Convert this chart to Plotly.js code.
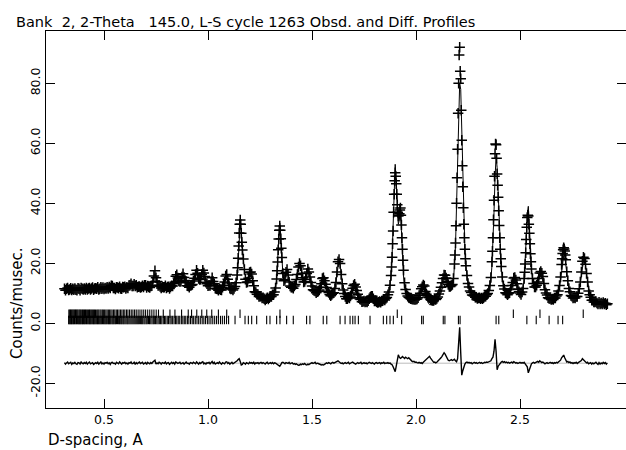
<!DOCTYPE html>
<html>
<head>
<meta charset="utf-8">
<script src="https://cdn.plot.ly/plotly-3.0.1.min.js"></script>
<style>html,body{margin:0;padding:0;background:#fff;}#chart{width:626px;height:450px;}</style>
</head>
<body>
<div id="chart"></div>
<script>
// ---- data ----
// calculated profile, one value per 0.005 A step starting at d = 0.310 A
const calcProfile = [
11.3,11.3,11.4,11.4,11.3,11.3,11.4,11.5,11.4,11.3,
11.3,11.4,11.4,11.5,11.4,11.3,11.4,11.5,11.5,11.4,
11.4,11.5,11.6,11.5,11.4,11.5,11.6,11.7,11.6,11.5,
11.5,11.6,11.7,11.6,11.5,11.6,11.7,11.8,11.7,11.6,
11.6,11.7,11.8,12.0,12.2,12.3,12.1,11.9,11.8,11.7,
11.7,11.8,11.9,11.8,11.7,11.8,11.9,12.0,11.9,11.8,
11.9,12.1,12.4,12.7,12.8,12.6,12.5,12.7,12.8,12.5,
12.2,12.0,11.9,12.0,12.1,12.2,12.4,12.6,12.5,12.3,
12.1,12.1,12.1,12.2,12.6,13.4,15.2,16.5,15.5,13.8,
12.8,12.4,12.2,12.1,12.0,12.0,12.1,12.1,12.0,12.0,
12.0,12.0,12.1,12.2,12.5,13.0,14.0,15.3,16.0,15.2,
14.0,13.6,14.2,15.4,16.3,15.6,14.2,13.1,12.6,12.4,
12.3,12.4,12.6,13.0,13.8,15.0,16.5,17.3,16.6,15.2,
14.4,14.8,16.0,17.2,17.0,15.5,14.0,13.0,12.5,12.4,
12.8,13.8,14.6,14.0,12.9,12.0,11.5,11.2,11.1,11.1,
11.2,11.4,11.8,12.6,14.0,15.4,15.8,14.8,13.2,12.0,
11.3,11.2,11.3,11.6,12.1,13.1,15.3,20.5,28.6,33.8,
30.6,24.8,21.2,17.9,15.0,13.4,13.7,15.2,16.6,17.1,
16.2,14.3,12.2,10.8,10.2,9.7,9.4,9.1,8.9,8.7,
8.5,8.3,8.2,8.1,8.1,8.2,8.3,8.5,8.7,9.0,
9.3,9.7,10.3,11.8,15.1,21.0,29.0,33.4,28.7,21.7,
16.3,14.2,14.8,16.8,17.8,16.2,13.5,12.6,12.0,11.9,
12.0,12.5,13.3,14.8,16.8,19.5,20.5,19.5,17.2,15.4,
14.2,14.0,15.2,17.2,18.4,17.6,15.6,13.6,12.2,11.3,
10.8,10.5,10.4,10.5,10.8,11.4,12.4,13.8,15.4,15.8,
14.6,13.2,11.8,10.8,10.1,9.6,9.4,9.5,9.7,10.2,
11.4,13.2,16.5,19.7,20.8,19.7,16.4,13.1,11.3,9.9,
8.7,8.3,8.1,8.4,8.6,9.1,9.9,11.3,12.5,13.2,
12.4,10.9,9.5,8.6,8.0,7.6,7.4,7.3,7.2,7.2,
7.2,7.3,7.5,7.9,8.6,9.1,8.8,8.2,7.7,7.4,
7.0,7.0,7.0,7.1,7.2,7.3,7.5,7.7,7.9,8.2,
8.6,9.3,10.5,12.6,16.2,22.5,32.0,45.0,53.0,47.5,
38.0,33.0,34.5,36.8,31.0,22.5,15.8,11.9,9.3,8.2,
7.6,6.9,7.1,7.2,7.4,7.5,7.4,7.6,7.6,7.9,
8.4,9.0,10.0,11.3,12.3,12.5,11.8,9.6,8.3,7.4,
6.7,6.2,6.2,6.5,7.0,7.3,7.6,7.8,8.0,8.2,
8.9,9.4,10.2,11.2,12.0,12.6,13.0,12.9,12.4,11.9,
11.5,11.3,11.4,12.0,13.8,18.5,26.0,39.5,56.5,73.0,
80.0,78.0,65.0,48.0,34.0,25.0,19.0,15.5,13.2,11.8,
10.8,10.1,9.6,9.2,8.9,8.7,8.5,8.4,8.3,8.2,
8.2,8.2,8.3,8.4,8.6,8.8,9.1,9.6,10.4,12.0,
14.5,19.0,26.5,37.0,48.5,55.5,52.0,43.0,33.0,24.5,
18.5,14.8,12.2,10.9,10.0,9.5,9.4,9.6,10.2,11.2,
12.2,13.5,14.6,15.0,14.4,13.0,11.4,10.4,9.8,9.6,
10.2,11.6,14.6,20.0,28.5,36.5,39.0,32.0,24.0,18.3,
14.8,13.0,12.1,11.9,12.3,13.2,14.6,16.0,16.8,16.5,
15.2,13.2,11.4,10.1,9.2,8.6,8.2,8.0,7.9,7.9,
8.0,8.2,8.4,8.8,9.4,10.4,12.0,14.4,17.8,20.8,
22.5,22.3,20.2,16.8,13.6,11.4,10.1,9.3,8.8,8.5,
8.4,8.4,8.6,9.0,9.8,11.1,13.2,16.2,19.2,20.8,
20.8,19.3,16.5,13.5,11.0,9.5,8.5,8.0,7.6,7.3,
7.1,7.0,6.9,6.8,6.8,6.7,6.7,6.6,6.6,6.5,
6.5,6.5,6.4
];
// difference curve (Obs - Calc), same d steps
const diffProfile = [
0.2,-0.3,0.1,0.4,-0.2,0.0,0.3,-0.4,0.1,-0.1,
0.3,-0.2,-0.4,0.2,0.1,-0.3,0.4,0.0,-0.2,0.2,
-0.1,0.3,-0.3,0.1,0.4,-0.2,0.0,0.2,-0.4,0.1,
0.2,-0.1,0.3,-0.3,0.0,0.4,-0.2,0.1,-0.3,0.2,
0.0,0.3,-0.2,0.1,-0.4,0.2,0.3,-0.1,0.0,-0.3,
0.3,0.1,-0.2,0.4,-0.1,-0.3,0.2,0.0,0.3,-0.2,
0.1,-0.3,0.2,0.0,0.4,-0.2,-0.1,0.3,-0.4,0.2,
-0.2,0.2,0.4,-0.1,0.0,0.3,-0.3,0.1,0.2,-0.4,
0.3,0.0,-0.2,0.2,-0.1,0.4,0.6,1.0,-0.3,0.1,
-0.2,0.3,0.1,-0.3,0.2,0.0,-0.1,0.4,-0.2,0.1,
0.2,-0.4,0.0,0.3,-0.1,0.2,-0.3,0.4,0.2,-0.1,
0.1,0.3,-0.2,0.0,0.2,-0.3,0.1,0.4,-0.1,0.0,
-0.3,0.2,0.1,-0.1,0.3,0.0,-0.2,0.4,0.1,-0.3,
0.2,-0.1,0.3,0.5,-0.2,0.1,-0.3,0.2,0.0,0.3,
-0.2,0.1,0.6,-0.1,0.3,-0.3,0.0,0.2,-0.1,0.4,
0.0,-0.3,0.2,0.1,-0.2,0.4,0.5,-0.1,0.2,-0.3,
0.1,0.3,-0.2,0.0,0.2,0.4,0.8,1.2,1.5,0.6,
-0.6,-0.4,0.2,0.0,-0.3,0.2,0.1,-0.2,0.3,0.0,
0.2,-0.1,0.3,-0.3,0.1,0.0,0.2,-0.2,0.1,0.3,
-0.1,0.2,0.0,-0.3,0.1,0.3,-0.2,0.0,0.2,-0.1,
0.2,-0.2,0.1,0.0,-0.3,-0.6,-0.9,-1.0,-0.5,0.2,
0.3,0.0,-0.2,0.2,0.1,-0.1,0.3,-0.2,0.0,0.1,
-0.3,-0.1,-0.4,-0.2,-0.5,-0.7,-0.6,-0.3,-0.5,-0.2,
-0.4,-0.1,-0.5,-0.6,-0.3,-0.5,-0.2,0.0,0.2,-0.1,
0.1,0.3,-0.2,0.0,-0.1,-0.3,-0.4,-0.6,-0.5,-0.6,
-0.4,-0.2,0.1,-0.1,0.2,0.0,-0.2,0.1,0.3,0.0,
0.2,0.4,0.6,0.8,0.5,0.2,-0.1,0.1,-0.2,0.0,
0.2,-0.1,0.1,0.3,-0.2,0.0,0.2,0.4,0.1,-0.2,
-0.3,0.0,0.2,-0.1,0.1,0.3,-0.2,0.0,0.2,-0.1,
0.1,-0.2,0.0,0.3,0.1,-0.1,0.2,0.0,-0.3,0.1,
0.2,-0.1,0.0,0.2,-0.2,0.1,0.0,0.3,-0.1,0.1,
0.0,0.2,-0.1,0.1,-0.3,-0.5,-1.2,-2.0,-2.8,-1.0,
1.5,2.8,2.0,1.6,1.8,2.2,1.9,1.6,2.0,1.7,
1.5,1.8,1.3,1.0,0.7,0.5,0.6,0.3,0.4,0.2,
0.1,0.3,0.0,0.2,-0.1,0.3,0.6,1.0,1.4,1.8,
2.0,2.3,1.7,1.2,0.6,0.3,0.4,0.1,0.3,0.6,
0.9,1.4,1.8,2.3,2.9,3.5,3.0,2.2,1.5,1.0,
0.8,1.0,1.2,0.9,1.1,1.3,0.8,0.5,1.5,7.0,
12.0,3.5,-4.0,-2.5,-1.0,-0.3,0.2,0.4,0.1,0.3,
0.0,0.2,-0.2,0.1,0.3,0.0,0.2,-0.1,0.1,0.3,
0.0,0.2,-0.1,0.1,0.3,0.2,0.4,0.3,0.5,0.6,
0.8,1.5,2.0,4.0,8.0,4.0,-2.2,-1.0,-0.4,0.2,
0.4,0.6,0.3,0.5,0.2,0.4,0.1,0.3,0.0,0.2,
0.4,0.1,0.5,0.3,0.0,0.2,-0.1,0.1,0.3,0.0,
0.2,0.0,0.3,-0.2,-0.6,-1.2,-3.2,-2.0,-0.8,-0.2,
0.1,0.3,0.0,0.2,0.4,0.6,0.3,0.8,0.5,0.2,
0.4,0.1,-0.2,0.0,0.2,-0.1,0.1,0.3,0.0,0.2,
-0.1,0.2,0.0,0.3,0.1,0.4,0.6,1.0,1.8,2.5,
2.7,1.8,1.0,0.4,0.6,0.2,0.4,0.0,0.2,-0.1,
0.2,0.0,0.3,-0.1,0.2,0.4,0.6,0.9,1.5,1.2,
0.8,0.4,0.1,0.3,-0.2,0.0,0.2,-0.3,0.1,-0.2,
0.0,0.3,-0.1,-0.4,0.2,-0.3,0.1,-0.2,0.3,-0.1,
0.2,-0.3,0.1
];
// additional observed points read on the steep peak flanks (d, counts)
const obsExtraD = [
1.1425,1.1475,1.1525,1.1575,1.1625,
1.3325,1.3375,1.3425,1.3475,1.3525,
1.8825,1.8875,1.8925,1.8975,1.9025,1.9075,1.9125,1.9175,1.9225,1.9275,1.9325,1.9375,
2.1875,2.1925,2.1975,2.2025,2.2075,2.2125,2.2175,2.2225,2.2275,2.2325,2.2375,
2.3675,2.3725,2.3775,2.3825,2.3875,2.3925,2.3975,2.4025,2.4075,
2.5225,2.5275,2.5325,2.5375,2.5425,2.5475,2.5525,
2.7025,2.7075,2.7125,2.7175
];
const obsExtraY = [
18.5,25.8,33.0,33.0,27.0,
17.5,24.5,31.0,31.0,25.0,
18.8,26.5,37.0,47.5,49.0,43.0,37.0,36.0,37.8,36.0,28.5,21.0,
22.8,32.5,48.5,70.0,89.4,84.0,71.0,52.5,38.5,28.5,21.5,
24.0,34.5,49.0,59.8,55.0,46.0,37.5,28.5,21.5,
17.0,23.5,32.0,36.0,33.0,26.5,20.5,
21.5,24.5,24.8,22.8
];
// reflection positions (d, A), lower row of tick marks
const phase1Refl = [
0.330,0.333,0.337,0.340,0.344,0.347,0.351,0.354,0.358,0.361,0.365,0.368,0.372,0.376,0.379,0.383,
0.386,0.390,0.394,0.397,0.401,0.405,0.408,0.412,0.416,0.419,0.423,0.427,0.431,0.434,0.438,0.442,
0.446,0.450,0.453,0.457,0.461,0.465,0.469,0.473,0.477,0.481,0.485,0.489,0.493,0.497,0.501,0.505,
0.509,0.513,0.518,0.522,0.526,0.530,0.534,0.539,0.543,0.547,0.552,0.556,0.560,0.565,0.569,0.574,
0.578,0.583,0.587,0.592,0.596,0.601,0.606,0.611,0.615,0.620,0.625,0.630,0.635,0.640,0.645,0.650,
0.655,0.660,0.665,0.670,0.676,0.681,0.686,0.692,0.697,0.703,0.708,0.714,0.719,0.725,0.731,0.737,
0.742,0.748,0.754,0.760,0.766,0.772,0.778,0.785,0.791,0.797,0.804,0.810,0.817,0.823,0.830,0.837,
0.844,0.850,0.857,0.864,0.872,0.879,0.886,0.893,0.901,0.908,0.916,0.924,0.931,0.939,0.947,0.955,
0.963,0.972,0.980,0.988,0.997,1.005,1.014,1.023,1.032,1.041,1.050,1.060,1.069,1.079,1.089,1.099,
1.130,1.178,1.194,1.210,1.234,1.282,1.298,1.330,1.346,1.378,1.410,1.474,1.490,1.554,1.571,1.635,
1.659,1.683,1.696,1.707,1.723,1.779,1.843,1.859,1.875,1.891,1.931,2.027,2.035,2.131,2.139,2.204,
2.212,2.385,2.398,2.533,2.578,2.640,2.683,2.705
];
// reflection positions (d, A), upper row of tick marks
const phase2Refl = [
0.331,0.335,0.339,0.343,0.347,0.351,0.355,0.359,0.363,0.367,0.371,0.375,0.380,0.384,0.388,0.393,
0.397,0.402,0.406,0.411,0.415,0.420,0.425,0.430,0.434,0.439,0.444,0.449,0.454,0.459,0.465,0.470,
0.475,0.481,0.486,0.492,0.497,0.503,0.509,0.515,0.521,0.527,0.533,0.539,0.546,0.552,0.559,0.565,
0.572,0.579,0.586,0.593,0.600,0.608,0.615,0.623,0.631,0.639,0.647,0.655,0.664,0.673,0.682,0.691,
0.700,0.710,0.720,0.730,0.740,0.751,0.762,
0.785,0.817,0.841,0.873,0.905,0.921,0.946,0.970,0.994,1.018,1.050,1.090,
1.154,1.346,1.910,2.468,2.596,2.804
];
const xTickVals = [0.5, 1.0, 1.5, 2.0, 2.5];
const xTickText = ['0.5', '1.0', '1.5', '2.0', '2.5'];
const yTickVals = [-20, 0, 20, 40, 60, 80];
const yTickText = ['-20.0', '0.0', '20.0', '40.0', '60.0', '80.0'];
const titleText = 'Bank  2, 2-Theta   145.0, L-S cycle 1263 Obsd. and Diff. Profiles';
const xTitle = 'D-spacing, A';
const yTitle = 'Counts/musec.';

// ---- derived series ----
const D0 = 0.31, DSTEP = 0.005;           // measurement grid
const dSpacing = calcProfile.map((_, i) => Math.round((D0 + i * DSTEP) * 1000) / 1000);
const obsProfile = calcProfile.map((c, i) => c + diffProfile[i]);   // Obs = Calc + Diff
const DIFF_OFFSET = -13.3;                 // where the difference curve is drawn
const diffPlotted = diffProfile.map(v => v + DIFF_OFFSET);

// ---- styling / geometry ----
const PX_PER_D = 208, L = 46, R = 626, T = 31, B = 408;
const Y0PX = 323.3, PX_PER_Y = 3;
const xRange = [L / PX_PER_D, R / PX_PER_D];
const yRange = [(Y0PX - B) / PX_PER_Y, (Y0PX - T) / PX_PER_Y];
const pw = R - L, ph = B - T;
const FONT = 'DejaVu Sans';

const crossMarker = { symbol: 'cross-thin-open', size: 7.5, color: '#000', line: { width: 1.5, color: '#000' } };
const traces = [
  { x: dSpacing.concat(obsExtraD), y: obsProfile.concat(obsExtraY), type: 'scatter', mode: 'markers',
    marker: crossMarker, hoverinfo: 'skip' },
  { x: dSpacing, y: calcProfile, type: 'scatter', mode: 'lines',
    line: { color: '#000', width: 1 }, hoverinfo: 'skip' },
  { x: dSpacing, y: diffPlotted, type: 'scatter', mode: 'lines',
    line: { color: '#000', width: 1.4 }, hoverinfo: 'skip' },
  { x: phase1Refl, y: phase1Refl.map(() => 1.1), type: 'scatter', mode: 'markers',
    marker: { symbol: 'line-ns-open', size: 6, color: '#000', line: { width: 1.1, color: '#000' } },
    hoverinfo: 'skip' },
  { x: phase2Refl, y: phase2Refl.map(() => 3.2), type: 'scatter', mode: 'markers',
    marker: { symbol: 'line-ns-open', size: 6, color: '#000', line: { width: 1.1, color: '#000' } },
    hoverinfo: 'skip' }
];

const axisCommon = {
  ticks: 'inside', ticklen: 9, tickwidth: 1, tickcolor: '#000',
  showline: true, linecolor: '#000', linewidth: 1, mirror: 'ticks',
  showgrid: false, zeroline: false, fixedrange: true,
  tickfont: { family: FONT, size: 12.5, color: '#000' }
};

const layout = {
  width: 626, height: 450,
  margin: { l: L, r: 626 - R, t: T, b: 450 - B, pad: 0 },
  paper_bgcolor: '#fff', plot_bgcolor: '#fff',
  showlegend: false,
  font: { family: FONT, color: '#000' },
  xaxis: Object.assign({}, axisCommon, { range: xRange, tickmode: 'array', tickvals: xTickVals, ticktext: xTickText }),
  yaxis: Object.assign({}, axisCommon, { range: yRange, tickmode: 'array', tickvals: yTickVals, ticktext: yTickText, tickangle: -90 }),
  shapes: [
    { type: 'line', xref: 'x', yref: 'y', x0: dSpacing[0], x1: dSpacing[dSpacing.length - 1],
      y0: DIFF_OFFSET, y1: DIFF_OFFSET, line: { color: '#bbb', width: 1 }, layer: 'below' }
  ],
  annotations: [
    { text: titleText, xref: 'paper', yref: 'paper', x: (14 - L) / pw, y: (B - 22.3) / ph,
      xanchor: 'left', yanchor: 'middle', showarrow: false, font: { family: FONT, size: 14.5, color: '#000' } },
    { text: xTitle, xref: 'paper', yref: 'paper', x: 0, y: (B - 439.8) / ph,
      xanchor: 'left', yanchor: 'middle', showarrow: false, font: { family: FONT, size: 15, color: '#000' } },
    { text: yTitle, xref: 'paper', yref: 'paper', x: (16.5 - L) / pw, y: (B - 303.5) / ph,
      xanchor: 'center', yanchor: 'middle', textangle: -90, showarrow: false, font: { family: FONT, size: 15, color: '#000' } }
  ]
};

Plotly.newPlot('chart', traces, layout, { displayModeBar: false, staticPlot: true });
</script>
</body>
</html>
